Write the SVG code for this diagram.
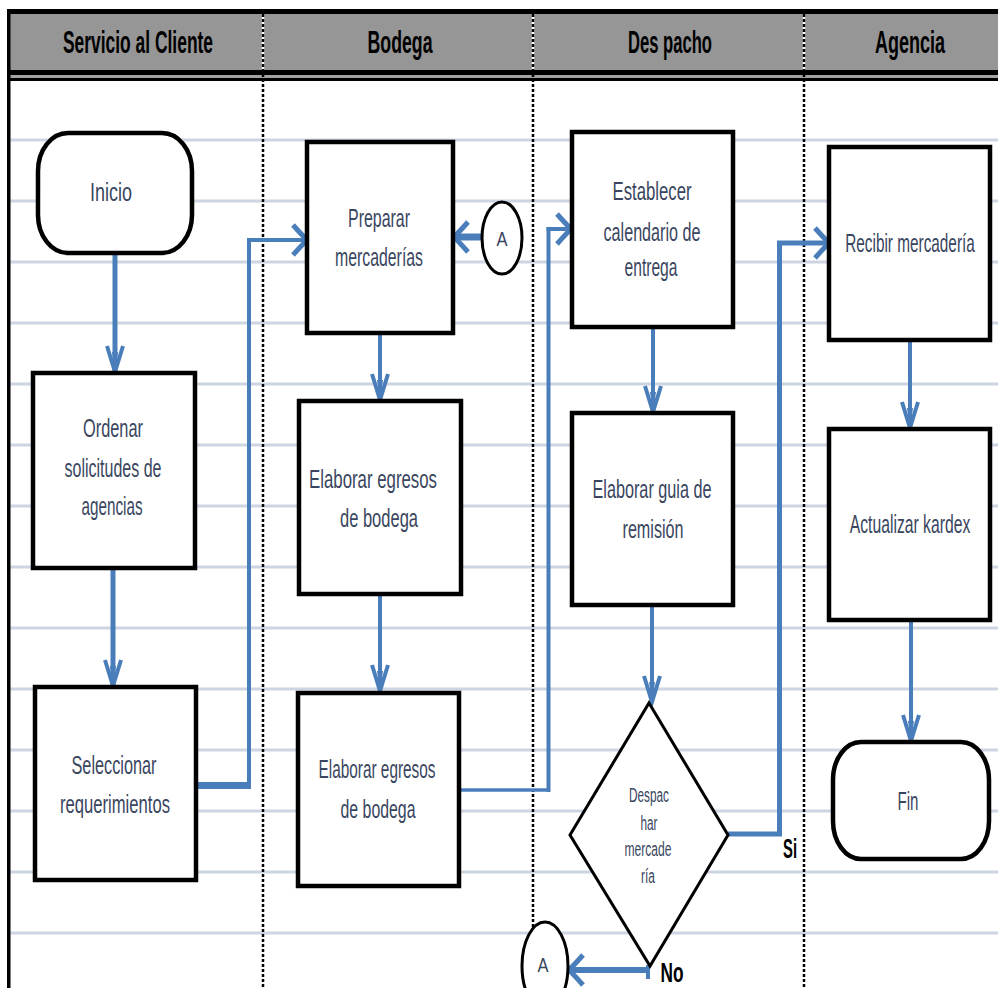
<svg xmlns="http://www.w3.org/2000/svg" width="998" height="988" viewBox="0 0 998 988">
  <style>
    .grid { stroke: #cdd5e2; stroke-width: 3; }
    .lane { stroke: #000; stroke-width: 2.5; stroke-dasharray: 3 2; fill: none; }
    .lanebg { stroke: #fff; stroke-width: 2.5; }
    .box { fill: #fff; stroke: #000; stroke-width: 4.5; }
    .dia { fill: #fff; stroke: #000; stroke-width: 3; }
    .hdr { font-family: "Liberation Sans", Arial, sans-serif; font-size: 32px; font-weight: bold; fill: #000; text-anchor: middle; }
    .lbl { font-family: "Liberation Sans", Arial, sans-serif; font-size: 26px; fill: #3a4660; text-anchor: middle; }
    .small { font-size: 20px; }
    .yn { font-family: "Liberation Sans", Arial, sans-serif; font-size: 28px; font-weight: bold; fill: #000; text-anchor: middle; }
    .c { stroke: #4a7ebb; fill: none; stroke-linejoin: miter; }
  </style>
  <defs>
    <!-- narrow open head used on vertical flows -->
    <marker id="av" markerUnits="userSpaceOnUse" orient="auto" refX="0" refY="0" markerWidth="40" markerHeight="40" viewBox="-30 -20 40 40" overflow="visible">
      <path d="M-26,-8 L0,0 L-26,8" fill="none" stroke="#4a7ebb" stroke-width="4"/>
      <path d="M-20,-3 L0,0 L-20,3 Z" fill="#4a7ebb"/>
    </marker>
    <!-- wide open head used on horizontal flows -->
    <marker id="ah" markerUnits="userSpaceOnUse" orient="auto" refX="0" refY="0" markerWidth="40" markerHeight="40" viewBox="-30 -20 40 40" overflow="visible">
      <path d="M-14,-15 Q-6,-6 0,0 Q-6,6 -14,15" fill="none" stroke="#4a7ebb" stroke-width="5"/>
    </marker>
  </defs>

  <rect x="0" y="0" width="998" height="988" fill="#fff"/>

  <!-- horizontal grid -->
  <g id="grid">
    <line class="grid" x1="10" y1="140" x2="998" y2="140"/>
    <line class="grid" x1="10" y1="201" x2="998" y2="201"/>
    <line class="grid" x1="10" y1="262" x2="998" y2="262"/>
    <line class="grid" x1="10" y1="323" x2="998" y2="323"/>
    <line class="grid" x1="10" y1="384" x2="998" y2="384"/>
    <line class="grid" x1="10" y1="445" x2="998" y2="445"/>
    <line class="grid" x1="10" y1="506" x2="998" y2="506"/>
    <line class="grid" x1="10" y1="567" x2="998" y2="567"/>
    <line class="grid" x1="10" y1="628" x2="998" y2="628"/>
    <line class="grid" x1="10" y1="689" x2="998" y2="689"/>
    <line class="grid" x1="10" y1="750" x2="998" y2="750"/>
    <line class="grid" x1="10" y1="811" x2="998" y2="811"/>
    <line class="grid" x1="10" y1="872" x2="998" y2="872"/>
    <line class="grid" x1="10" y1="933" x2="998" y2="933"/>
  </g>

  <!-- header band -->
  <g id="header">
    <rect x="8" y="12" width="990" height="60" fill="#969696"/>
    <rect x="8" y="9" width="990" height="5" fill="#000"/>
    <rect x="8" y="70" width="990" height="5" fill="#000"/>
    <rect x="8" y="75" width="990" height="3" fill="#a3a3a3"/>
    <rect x="8" y="78" width="990" height="3" fill="#000"/>
    <text class="hdr" x="138" y="53" textLength="150" lengthAdjust="spacingAndGlyphs">Servicio al Cliente</text>
    <text class="hdr" x="400" y="53" textLength="65" lengthAdjust="spacingAndGlyphs">Bodega</text>
    <text class="hdr" x="670" y="53" textLength="84" lengthAdjust="spacingAndGlyphs">Des pacho</text>
    <text class="hdr" x="910" y="53" textLength="70" lengthAdjust="spacingAndGlyphs">Agencia</text>
  </g>

  <!-- lane borders -->
  <g id="lanes">
    <rect x="7" y="9" width="3.5" height="979" fill="#000"/>
    <line class="lanebg" x1="263" y1="14" x2="263" y2="70"/>
    <line class="lanebg" x1="533" y1="14" x2="533" y2="70"/>
    <line class="lanebg" x1="804" y1="14" x2="804" y2="70"/>
    <line class="lane" x1="263" y1="14" x2="263" y2="988"/>
    <line class="lane" x1="533" y1="14" x2="533" y2="988"/>
    <line class="lane" x1="804" y1="14" x2="804" y2="988"/>
  </g>

  <!-- connectors -->
  <g id="connectors">
    <line class="c" x1="115" y1="253" x2="115" y2="372" stroke-width="5" marker-end="url(#av)"/>
    <line class="c" x1="113" y1="568" x2="113" y2="686" stroke-width="5" marker-end="url(#av)"/>
    <!-- Seleccionar -> Preparar -->
    <line class="c" x1="196" y1="785.5" x2="251" y2="785.5" stroke-width="7"/>
    <line class="c" x1="249" y1="789" x2="249" y2="238.5" stroke-width="4"/>
    <line class="c" x1="247" y1="240" x2="307" y2="240" stroke-width="4" marker-end="url(#ah)"/>
    <!-- A -> Preparar -->
    <line class="c" x1="483" y1="237" x2="454" y2="237" stroke-width="7" marker-end="url(#ah)"/>
    <line class="c" x1="380" y1="333" x2="380" y2="400" stroke-width="4" marker-end="url(#av)"/>
    <line class="c" x1="380" y1="594" x2="380" y2="691" stroke-width="4" marker-end="url(#av)"/>
    <!-- Elaborar egresos -> Establecer -->
    <line class="c" x1="459" y1="790" x2="550" y2="790" stroke-width="3.5"/>
    <line class="c" x1="548.5" y1="792" x2="548.5" y2="227" stroke-width="4"/>
    <line class="c" x1="546.5" y1="229" x2="571" y2="229" stroke-width="4" marker-end="url(#ah)"/>
    <line class="c" x1="653" y1="327" x2="653" y2="412" stroke-width="4" marker-end="url(#av)"/>
    <line class="c" x1="652" y1="605" x2="652" y2="702" stroke-width="4" marker-end="url(#av)"/>
    <!-- decision yes -> Recibir -->
    <line class="c" x1="728" y1="834" x2="782" y2="834" stroke-width="5"/>
    <line class="c" x1="779.5" y1="836" x2="779.5" y2="241" stroke-width="5"/>
    <line class="c" x1="777" y1="243" x2="829" y2="243" stroke-width="5" marker-end="url(#ah)"/>
    <!-- decision no -> A -->
    <line class="c" x1="648" y1="965" x2="648" y2="979" stroke-width="4"/>
    <line class="c" x1="650" y1="970" x2="569" y2="970" stroke-width="6" marker-end="url(#ah)"/>
    <line class="c" x1="910" y1="340" x2="910" y2="428" stroke-width="4" marker-end="url(#av)"/>
    <line class="c" x1="911" y1="620" x2="911" y2="741" stroke-width="4" marker-end="url(#av)"/>
  </g>

  <!-- Servicio al Cliente -->
  <g id="inicio">
    <rect class="box" x="38" y="133" width="154" height="120" rx="30" ry="38"/>
    <text class="lbl" x="111" y="201" textLength="42" lengthAdjust="spacingAndGlyphs">Inicio</text>
  </g>
  <g id="ordenar">
    <rect class="box" x="33" y="373" width="162" height="195"/>
    <text class="lbl" x="113" y="437" textLength="60" lengthAdjust="spacingAndGlyphs">Ordenar</text>
    <text class="lbl" x="113" y="477" textLength="97" lengthAdjust="spacingAndGlyphs">solicitudes de</text>
    <text class="lbl" x="112" y="515" textLength="61" lengthAdjust="spacingAndGlyphs">agencias</text>
  </g>
  <g id="seleccionar">
    <rect class="box" x="35" y="687" width="161" height="193"/>
    <text class="lbl" x="114" y="774" textLength="85" lengthAdjust="spacingAndGlyphs">Seleccionar</text>
    <text class="lbl" x="115" y="813" textLength="110" lengthAdjust="spacingAndGlyphs">requerimientos</text>
  </g>

  <!-- Bodega -->
  <g id="preparar">
    <rect class="box" x="307" y="142" width="146" height="191"/>
    <text class="lbl" x="379" y="227" textLength="62" lengthAdjust="spacingAndGlyphs">Preparar</text>
    <text class="lbl" x="379" y="266" textLength="88" lengthAdjust="spacingAndGlyphs">mercaderías</text>
  </g>
  <g id="conectorA1">
    <ellipse cx="502" cy="238" rx="20" ry="36" fill="#fff" stroke="#000" stroke-width="3"/>
    <text class="lbl small" x="502" y="246" textLength="11" lengthAdjust="spacingAndGlyphs">A</text>
  </g>
  <g id="egresos1">
    <rect class="box" x="299" y="401" width="162" height="193"/>
    <text class="lbl" x="373" y="488" textLength="128" lengthAdjust="spacingAndGlyphs">Elaborar egresos</text>
    <text class="lbl" x="379" y="527" textLength="78" lengthAdjust="spacingAndGlyphs">de bodega</text>
  </g>
  <g id="egresos2">
    <rect class="box" x="298" y="693" width="161" height="193"/>
    <text class="lbl" x="377" y="778" textLength="117" lengthAdjust="spacingAndGlyphs">Elaborar egresos</text>
    <text class="lbl" x="378" y="818" textLength="75" lengthAdjust="spacingAndGlyphs">de bodega</text>
  </g>

  <!-- Despacho -->
  <g id="establecer">
    <rect class="box" x="572" y="132" width="161" height="195"/>
    <text class="lbl" x="652" y="200" textLength="79" lengthAdjust="spacingAndGlyphs">Establecer</text>
    <text class="lbl" x="652" y="241" textLength="97" lengthAdjust="spacingAndGlyphs">calendario de</text>
    <text class="lbl" x="651" y="276" textLength="53" lengthAdjust="spacingAndGlyphs">entrega</text>
  </g>
  <g id="guia">
    <rect class="box" x="572" y="413" width="161" height="192"/>
    <text class="lbl" x="652" y="498" textLength="119" lengthAdjust="spacingAndGlyphs">Elaborar  guia de</text>
    <text class="lbl" x="653" y="538" textLength="61" lengthAdjust="spacingAndGlyphs">remisión</text>
  </g>
  <g id="decision">
    <polygon class="dia" points="649,703 728,835 650,966 570,835"/>
    <text class="lbl small" x="649" y="802" textLength="40" lengthAdjust="spacingAndGlyphs">Despac</text>
    <text class="lbl small" x="649" y="830" textLength="17" lengthAdjust="spacingAndGlyphs">har</text>
    <text class="lbl small" x="648" y="856" textLength="47" lengthAdjust="spacingAndGlyphs">mercade</text>
    <text class="lbl small" x="648" y="883" textLength="14" lengthAdjust="spacingAndGlyphs">ría</text>
    <text class="yn" x="790" y="858" textLength="14" lengthAdjust="spacingAndGlyphs">Si</text>
    <text class="yn" x="672" y="982" textLength="23" lengthAdjust="spacingAndGlyphs">No</text>
  </g>
  <g id="conectorA2">
    <ellipse cx="545" cy="966" rx="23" ry="44" fill="#fff" stroke="#000" stroke-width="3"/>
    <text class="lbl small" x="543" y="972" textLength="11" lengthAdjust="spacingAndGlyphs">A</text>
  </g>

  <!-- Agencia -->
  <g id="recibir">
    <rect class="box" x="829" y="147" width="161" height="193"/>
    <text class="lbl" transform="translate(910,252) scale(0.6,1)" x="0" y="0" textLength="216" lengthAdjust="spacingAndGlyphs">Recibir mercadería</text>
  </g>
  <g id="actualizar">
    <rect class="box" x="829" y="429" width="161" height="191"/>
    <text class="lbl" transform="translate(910,533) scale(0.6,1)" x="0" y="0" textLength="201" lengthAdjust="spacingAndGlyphs">Actualizar kardex</text>
  </g>
  <g id="fin">
    <rect class="box" x="833" y="742" width="156" height="117" rx="28" ry="38"/>
    <text class="lbl" x="908" y="810" textLength="21" lengthAdjust="spacingAndGlyphs">Fin</text>
  </g>
</svg>
